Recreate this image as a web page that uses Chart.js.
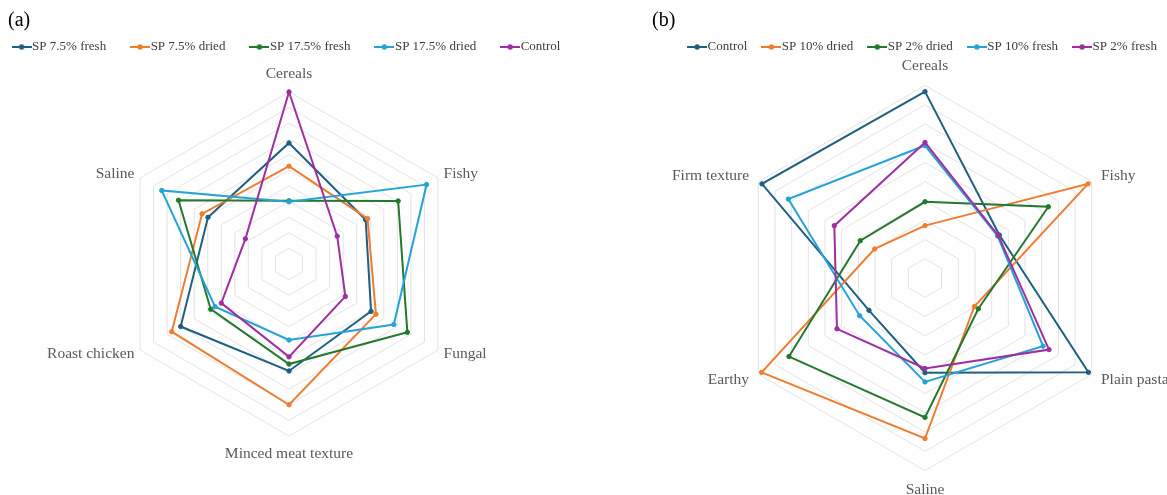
<!DOCTYPE html>
<html>
<head>
<meta charset="utf-8">
<script src="https://cdn.jsdelivr.net/npm/chart.js@4.4.1/dist/chart.umd.min.js"></script>
<style>
  html, body { margin: 0; padding: 0; background: #ffffff; overflow: hidden; width: 1167px; height: 495px; }
  body { position: relative; }
  canvas { position: absolute; top: 0; }
  #panelA { left: -40px; width: 658px; height: 495px; }
  #panelB { left: 583px; width: 617px; height: 495px; }
</style>
</head>
<body>
<canvas id="panelA" width="658" height="495"></canvas>
<canvas id="panelB" width="617" height="495"></canvas>
<script>
// Panel (a): sensory attributes of the pasta made with 7.5% / 17.5% SP
const attributesA = ['Cereals', 'Fishy', 'Fungal', 'Minced meat texture', 'Roast chicken', 'Saline'];
const sp75Fresh   = [3.87, 2.83, 3.03, 3.42, 4.00, 2.99];
const sp75Dried   = [3.13, 2.90, 3.21, 4.50, 4.33, 3.21];
const sp175Fresh  = [2.02, 4.03, 4.37, 3.20, 2.89, 4.08];
const sp175Dried  = [1.99, 5.08, 3.87, 2.43, 2.73, 4.70];
const controlA    = [5.50, 1.78, 2.08, 2.97, 2.50, 1.61];

// Panel (b): sensory attributes of the pasta made with 2% / 10% SP
const attributesB = ['Cereals', 'Fishy', 'Plain pasta', 'Saline', 'Earthy', 'Firm texture'];
const controlB    = [4.84, 2.23, 4.90, 2.46, 1.68, 4.89];
const sp10Dried   = [1.36, 4.89, 1.48, 4.17, 4.90, 1.51];
const sp2Dried    = [1.98, 3.70, 1.60, 3.62, 4.08, 1.94];
const sp10Fresh   = [3.44, 2.18, 3.54, 2.70, 1.96, 4.10];
const sp2Fresh    = [3.52, 2.20, 3.72, 2.35, 2.64, 2.72];

const SERIF = '"Liberation Serif", "Times New Roman", serif';
const NAVY = '#1f5f80', ORANGE = '#ee7d31', GREEN = '#24782f', SKY = '#25a3d8', PLUM = '#9e2fa0';

// Small "line with a dot" sample used as the legend symbol
function legendMarker(color) {
  const c = document.createElement('canvas');
  c.width = 20; c.height = 8;
  const g = c.getContext('2d');
  g.strokeStyle = color; g.lineWidth = 2;
  g.beginPath(); g.moveTo(0, 4); g.lineTo(20, 4); g.stroke();
  g.fillStyle = color;
  g.beginPath(); g.arc(10, 4, 2.7, 0, Math.PI * 2); g.fill();
  return c;
}

// Panel letter "(a)" / "(b)" in the top-left corner
const panelTag = {
  id: 'panelTag',
  afterDraw(chart, args, opts) {
    const c = chart.ctx;
    c.save();
    c.font = '20px ' + SERIF;
    c.fillStyle = '#000000';
    c.textBaseline = 'middle';
    c.textAlign = 'left';
    c.fillText(opts.text, opts.x, opts.y);
    c.restore();
  }
};

function radarChart(id, labels, series, cfg) {
  return new Chart(document.getElementById(id), {
    type: 'radar',
    data: {
      labels: labels,
      datasets: series.map(([label, values, color], i) => ({
        label: label,
        data: values,
        borderColor: color,
        backgroundColor: color,
        pointBackgroundColor: color,
        pointBorderColor: color,
        borderWidth: 2,
        pointRadius: 2.2,
        pointBorderWidth: 1,
        pointHoverRadius: 2.2,
        fill: false,
        order: -i
      }))
    },
    options: {
      responsive: false,
      animation: false,
      devicePixelRatio: 1,
      layout: { padding: cfg.padding },
      plugins: {
        legend: {
          position: 'top',
          align: 'center',
          labels: {
            usePointStyle: true,
            pointStyleWidth: 8,
            padding: cfg.legendGap,
            color: '#3c3c3c',
            font: { family: SERIF, size: 13 },
            generateLabels: (chart) => chart.data.datasets.map((ds, i) => ({
              text: ds.label,
              pointStyle: legendMarker(ds.borderColor),
              fillStyle: ds.borderColor,
              strokeStyle: ds.borderColor,
              lineWidth: 0,
              fontColor: '#3c3c3c',
              hidden: false,
              datasetIndex: i
            }))
          }
        },
        tooltip: { enabled: false },
        panelTag: { text: cfg.tag, x: cfg.tagX, y: 21 }
      },
      scales: {
        r: {
          min: 0,
          max: cfg.max,
          ticks: { display: false, stepSize: 0.5 },
          angleLines: { display: false },
          grid: { color: '#e3e3e3', lineWidth: 1 },
          pointLabels: {
            color: '#595959',
            padding: (c) => (c.index % 3 === 0 ? cfg.axisPad : cfg.sidePad),
            font: (c) => ({
              family: SERIF,
              size: 15.5,
              lineHeight: c.index % 3 === 0 ? cfg.axisLine : '1px'
            })
          }
        }
      }
    },
    plugins: [panelTag]
  });
}

radarChart('panelA', attributesA, [
  ['SP 7.5% fresh', sp75Fresh, NAVY],
  ['SP 7.5% dried', sp75Dried, ORANGE],
  ['SP 17.5% fresh', sp175Fresh, GREEN],
  ['SP 17.5% dried', sp175Dried, SKY],
  ['Control', controlA, PLUM]
], {
  tag: '(a)', tagX: 48, max: 5.5, legendGap: 30,
  padding: { top: 10.5, bottom: 30.5, left: 0, right: 0 },
  axisPad: 7.5, axisLine: '21px', sidePad: 6.5
});

radarChart('panelB', attributesB, [
  ['Control', controlB, NAVY],
  ['SP 10% dried', sp10Dried, ORANGE],
  ['SP 2% dried', sp2Dried, GREEN],
  ['SP 10% fresh', sp10Fresh, SKY],
  ['SP 2% fresh', sp2Fresh, PLUM]
], {
  tag: '(b)', tagX: 69, max: 5, legendGap: 20,
  padding: { top: 20.5, bottom: 2.5, left: 67, right: 0 },
  axisPad: 17, axisLine: '5px', sidePad: 10.7
});
</script>
</body>
</html>
